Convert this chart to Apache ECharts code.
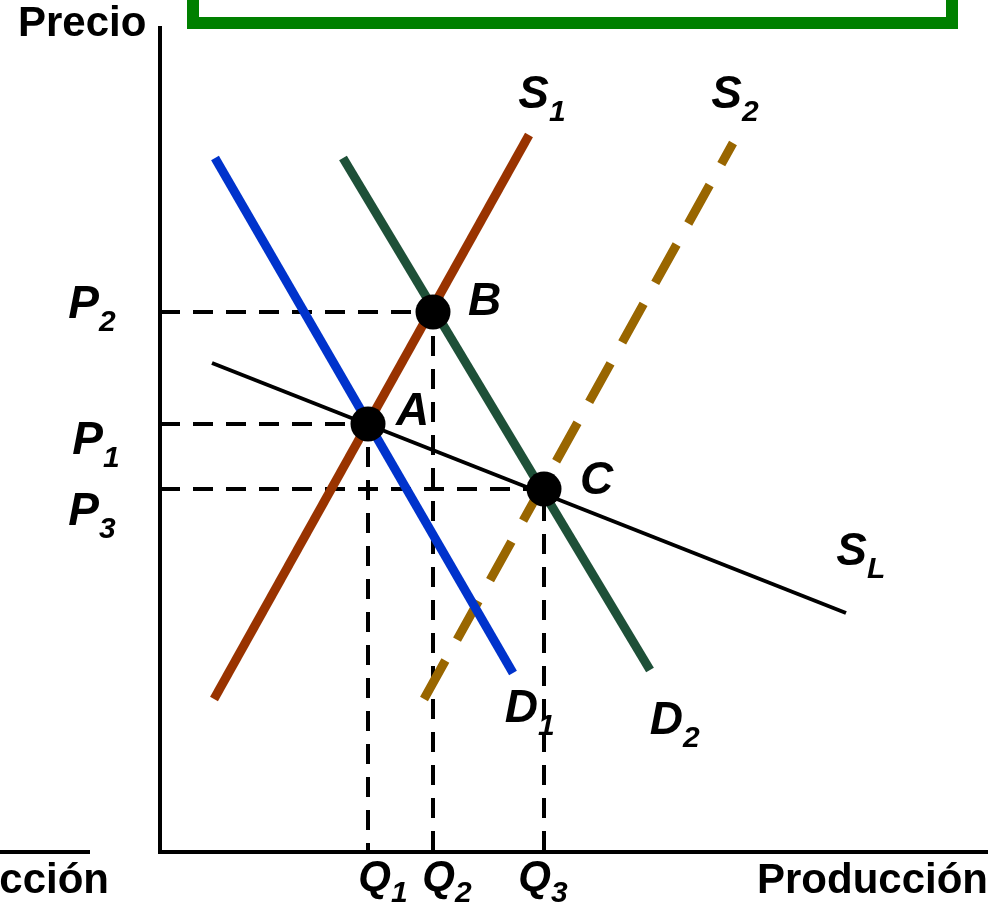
<!DOCTYPE html>
<html>
<head>
<meta charset="utf-8">
<title>Oferta y demanda</title>
<script src="https://cdn.jsdelivr.net/npm/echarts@6/dist/echarts.min.js"></script>
<style>
  html, body { margin: 0; padding: 0; background: #ffffff; }
  #chart { width: 996px; height: 909px; }
</style>
</head>
<body>
<div id="chart"></div>
<script>
// Curves, each given by its two end points (quantity, price)
const supplyS1 = [[54, 153], [369, 717]];
const supplyS2 = [[264, 153], [573, 709]];
const demandD1 = [[55, 694], [353, 179]];
const demandD2 = [[183, 694], [490, 182]];
const supplyLong = [[52, 489], [686, 239]];

// Equilibrium points
const pointNames = ['A', 'B', 'C'];
const pointQ = [208, 273, 384];
const pointP = [428, 540, 363];

// Axis text
const priceTicks = ['1', '2', '3'];      // P1 (A), P2 (B), P3 (C)
const quantityTicks = ['1', '2', '3'];   // Q1 (A), Q2 (B), Q3 (C)
const yAxisName = 'Precio';
const xAxisName = 'Producción';

const FONT = '"Liberation Sans", Arial, Helvetica, sans-serif';
const chart = echarts.init(document.getElementById('chart'), null, { renderer: 'canvas' });

function curve(name, data, color, width, dash) {
  return {
    name, type: 'line', data, symbol: 'none', silent: true, z: 3,
    lineStyle: { color, width, type: dash || 'solid', cap: 'butt' }
  };
}

// Dashed guides from each equilibrium to both axes
const guides = pointQ.map((q, i) => ({
  type: 'line', silent: true, symbol: 'none', z: 2,
  data: [[0, pointP[i]], [q, pointP[i]], [q, 0]],
  lineStyle: { color: '#000', width: 4, type: [20, 13], cap: 'butt' }
}));

const series = [
  ...guides,
  curve('S2', supplyS2, '#996600', 9, [44, 24]),
  curve('SL', supplyLong, '#000000', 4),
  curve('D1', demandD1, '#0033cc', 9),
  curve('S1', supplyS1, '#993300', 9),
  curve('D2', demandD2, '#1e5038', 9),
  {
    type: 'scatter', silent: true, z: 5,
    symbol: 'circle', symbolSize: 35,
    itemStyle: { color: '#000', opacity: 1 },
    data: pointQ.map((q, i) => ({ name: pointNames[i], value: [q, pointP[i]] }))
  }
];

// Letter with subscript: main glyph ends at ax, subscript starts there
function subLabel(ax, yc, main, sub, size) {
  const subSize = 30;
  const dy = 0.34 * size + 12 - 0.34 * subSize;
  return [
    { type: 'text', x: ax, y: yc, z: 4, style: { text: main, fontFamily: FONT, fontSize: size, fontWeight: 'bold', fontStyle: 'italic', fill: '#000', align: 'right', verticalAlign: 'middle' } },
    { type: 'text', x: ax, y: yc + dy, z: 4, style: { text: sub, fontFamily: FONT, fontSize: subSize, fontWeight: 'bold', fontStyle: 'italic', fill: '#000', align: 'left', verticalAlign: 'middle' } }
  ];
}
function plain(x, yc, text, size, align, italic) {
  return { type: 'text', x, y: yc, z: 4, style: { text, fontFamily: FONT, fontSize: size, fontWeight: 'bold', fontStyle: italic ? 'italic' : 'normal', fill: '#000', align, verticalAlign: 'middle' } };
}

const graphic = [
  // frame of the title box above the plot
  { type: 'rect', z: 1, shape: { x: 193, y: -60, width: 759, height: 83 }, style: { fill: 'none', stroke: '#008000', lineWidth: 12 } },
  // axis of the neighbouring panel on the left
  { type: 'line', z: 1, shape: { x1: 0, y1: 852, x2: 90, y2: 852 }, style: { stroke: '#000', lineWidth: 4 } },
  plain(109, 881, xAxisName, 42, 'right', false),
  plain(18, 24, yAxisName, 42, 'left', false),
  plain(757, 881, xAxisName, 42, 'left', false),
  ...subLabel(99, 305, 'P', priceTicks[1], 46),
  ...subLabel(103, 441, 'P', priceTicks[0], 46),
  ...subLabel(99, 512, 'P', priceTicks[2], 46),
  ...subLabel(391, 878, 'Q', quantityTicks[0], 42),
  ...subLabel(455, 878, 'Q', quantityTicks[1], 42),
  ...subLabel(551, 878, 'Q', quantityTicks[2], 42),
  ...subLabel(549, 95, 'S', '1', 46),
  ...subLabel(742, 95, 'S', '2', 46),
  ...subLabel(538, 709, 'D', '1', 46),
  ...subLabel(683, 721, 'D', '2', 46),
  ...subLabel(867, 552, 'S', 'L', 46),
  plain(396, 412, pointNames[0], 46, 'left', true),
  plain(468, 302, pointNames[1], 46, 'left', true),
  plain(580, 481, pointNames[2], 46, 'left', true)
];

chart.setOption({
  animation: false,
  backgroundColor: '#ffffff',
  grid: { left: 160, right: 10, top: 28, bottom: 57 },
  xAxis: {
    type: 'value', min: 0, max: 826,
    axisLine: { show: true, onZero: false, lineStyle: { color: '#000', width: 4, cap: 'square' } },
    axisTick: { show: false }, axisLabel: { show: false }, splitLine: { show: false }
  },
  yAxis: {
    type: 'value', min: 0, max: 824,
    axisLine: { show: true, onZero: false, lineStyle: { color: '#000', width: 4, cap: 'square' } },
    axisTick: { show: false }, axisLabel: { show: false }, splitLine: { show: false }
  },
  series,
  graphic
});
</script>
</body>
</html>
